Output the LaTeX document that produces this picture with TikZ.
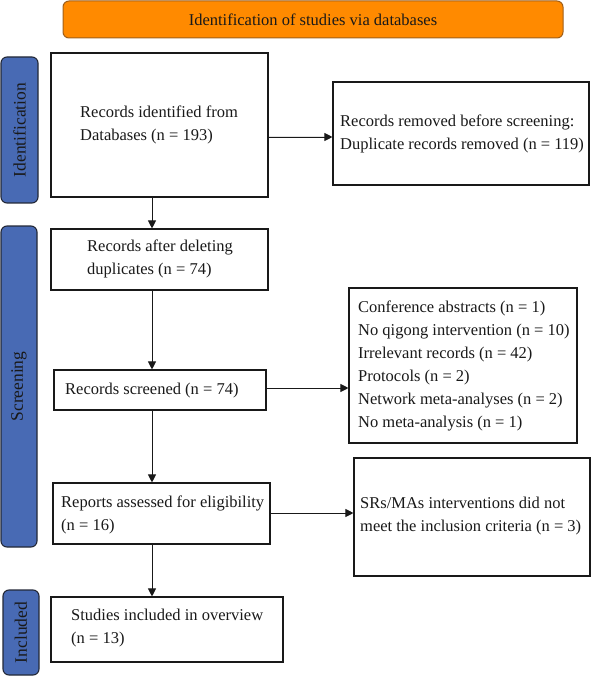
\documentclass[tikz,border=0pt]{standalone}
\usepackage{fontspec}
\setmainfont{Liberation Serif}
\usetikzlibrary{arrows.meta}
\definecolor{hdr}{RGB}{255,138,0}
\definecolor{hdrborder}{RGB}{160,95,25}
\definecolor{barblue}{RGB}{72,106,180}
\definecolor{barborder}{RGB}{35,40,55}
\definecolor{ink}{RGB}{25,25,25}
\begin{document}
\begin{tikzpicture}[x=1pt,y=-1pt,
  box/.style={draw=ink, line width=1.1pt, fill=white, inner sep=0pt},
  txt/.style={anchor=west, align=left, inner sep=0pt, text=ink, font=\fontsize{16.5}{23}\selectfont},
  bar/.style={draw=barborder, fill=barblue, line width=1.1pt, rounded corners=6pt, inner sep=0pt},
  lab/.style={rotate=90, inner sep=0pt, text=ink, font=\fontsize{17.5}{20}\selectfont},
  arr/.style={-{Triangle[length=8pt,width=8pt]}, line width=0.9pt, draw=ink, fill=ink}]
\useasboundingbox (0,0) rectangle (591,676);
% header
\node[draw=hdrborder, fill=hdr, line width=1pt, rounded corners=6pt, minimum width=500pt, minimum height=37pt, inner sep=0pt, text=ink, font=\fontsize{16.5}{20}\selectfont] (hd) at (313,19.5) {Identification of studies via databases};
% side bars
\node[bar, minimum width=37pt, minimum height=146pt] (idb) at (19.5,130) {};
\node[bar, minimum width=36pt, minimum height=321pt] (scb) at (19,386.5) {};
\node[bar, minimum width=36pt, minimum height=85pt] (inb) at (21,632.5) {};
\node[lab] (idl) at (idb) {Identification};
\node[lab] (scl) at (scb) {Screening};
\node[lab] (inl) at (inb) {Included};
% boxes
\node[box, minimum width=217pt, minimum height=144pt] (b1) at (159.5,125) {};
\node[box, minimum width=256pt, minimum height=103pt] (b2) at (461,133.5) {};
\node[box, minimum width=217pt, minimum height=61pt] (b3) at (159.5,259.5) {};
\node[box, minimum width=212pt, minimum height=40pt] (b4) at (160,390) {};
\node[box, minimum width=228pt, minimum height=155pt] (b5) at (463,365.5) {};
\node[box, minimum width=217pt, minimum height=61pt] (b6) at (161.5,513.5) {};
\node[box, minimum width=236pt, minimum height=118pt] (b7) at (472,517) {};
\node[box, minimum width=232pt, minimum height=65pt] (b8) at (167,629.5) {};
% texts
\node[txt] (t1) at (80,124.5) {Records identified from\\Databases (n = 193)};
\node[txt] (t2) at (340,133.5) {Records removed before screening:\\Duplicate records removed (n = 119)};
\node[txt] (t3) at (87,258.5) {Records after deleting\\duplicates (n = 74)};
\node[txt] (t4) at (65,390.5) {Records screened (n = 74)};
\node[txt] (t5) at (358,365.5) {Conference abstracts (n = 1)\\No qigong intervention (n = 10)\\Irrelevant records (n = 42)\\Protocols (n = 2)\\Network meta-analyses (n = 2)\\No meta-analysis (n = 1)};
\node[txt] (t6) at (61,514.5) {Reports assessed for eligibility\\(n = 16)};
\node[txt] (t7) at (360,516.5) {SRs/MAs interventions did not\\meet the inclusion criteria (n = 3)};
\node[txt] (t8) at (71,628.5) {Studies included in overview\\(n = 13)};
% connectors
\coordinate (sp) at (152,0);
\coordinate (r1) at (0,137);
\coordinate (r2) at (0,388);
\coordinate (r3) at (0,513);
\draw[arr] (b1.south -| sp) -- (b3.north -| sp);
\draw[arr] (b3.south -| sp) -- (b4.north -| sp);
\draw[arr] (b4.south -| sp) -- (b6.north -| sp);
\draw[arr] (b6.south -| sp) -- (b8.north -| sp);
\draw[arr] (b1.east |- r1) -- (b2.west |- r1);
\draw[arr] (b4.east |- r2) -- (b5.west |- r2);
\draw[arr] (b6.east |- r3) -- (b7.west |- r3);
\end{tikzpicture}
\end{document}
